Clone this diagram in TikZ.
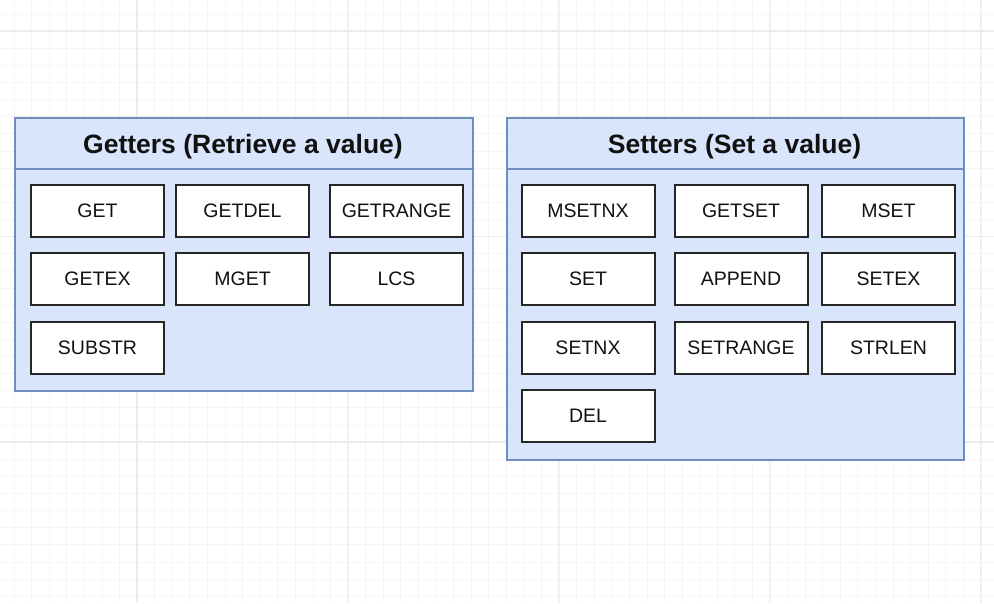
\documentclass[tikz,border=0pt]{standalone}
\usepackage{fontspec}
\setmainfont{Liberation Sans}
\definecolor{gridminor}{HTML}{F5F5F5}
\definecolor{gridmajor}{HTML}{ECECEC}
\definecolor{contfill}{HTML}{D8E5FA}
\definecolor{contline}{HTML}{6F8EC0}
\definecolor{boxline}{HTML}{262626}
\definecolor{txt}{HTML}{111111}
\tikzset{
  container/.style={draw=contline, fill=contfill, line width=1.5pt, anchor=north west, inner sep=0pt},
  header/.style={draw=contline, fill=contfill, line width=1.5pt, anchor=north west, inner sep=0pt},
  headtext/.style={anchor=base, inner sep=0pt, font=\fontsize{26.5}{30}\selectfont\bfseries, text=txt},
  cmd/.style={draw=boxline, fill=white, line width=2pt, minimum width=133pt, minimum height=52pt,
     inner sep=0pt, font=\fontsize{19.5}{22}\selectfont, text=txt},
}
\begin{document}
\begin{tikzpicture}[x=1pt,y=-1pt]
\useasboundingbox (0,0) rectangle (994,603);
\fill[white] (0,0) rectangle (994,603);
% grid
\foreach \i in {-7,...,49} {\draw[gridminor, line width=0.6pt] ({137+17.58*\i},0) -- ({137+17.58*\i},603);}
\foreach \i in {-1,...,34} {\draw[gridminor, line width=0.6pt] (0,{31+17.125*\i}) -- (994,{31+17.125*\i});}
\foreach \i in {0,...,4} {\draw[gridmajor, line width=1.1pt] ({137+210.9*\i},0) -- ({137+210.9*\i},603);}
\foreach \i in {0,...,2} {\draw[gridmajor, line width=1.1pt] (0,{31+205.5*\i}) -- (994,{31+205.5*\i});}

% Getters container
\node[container, minimum width=458pt, minimum height=273pt] (gbody) at (14,117) {};
\node[header, minimum width=458pt, minimum height=51pt] (ghead) at (14,117) {};
\node[headtext] (gtitle) at (243,153) {Getters (Retrieve a value)};
\node[cmd] (get) at (97.5,211) {GET};
\node[cmd] (getdel) at (242.5,211) {GETDEL};
\node[cmd] (getrange) at (396.5,211) {GETRANGE};
\node[cmd] (getex) at (97.5,279) {GETEX};
\node[cmd] (mget) at (242.5,279) {MGET};
\node[cmd] (lcs) at (396.5,279) {LCS};
\node[cmd] (substr) at (97.5,347.5) {SUBSTR};

% Setters container
\node[container, minimum width=457pt, minimum height=342pt] (sbody) at (506,117) {};
\node[header, minimum width=457pt, minimum height=51pt] (shead) at (506,117) {};
\node[headtext] (stitle) at (734.5,153) {Setters (Set a value)};
\node[cmd] (msetnx) at (588,211) {MSETNX};
\node[cmd] (getset) at (741,211) {GETSET};
\node[cmd] (mset) at (888.5,211) {MSET};
\node[cmd] (set) at (588,279) {SET};
\node[cmd] (append) at (741,279) {APPEND};
\node[cmd] (setex) at (888.5,279) {SETEX};
\node[cmd] (setnx) at (588,347.5) {SETNX};
\node[cmd] (setrange) at (741,347.5) {SETRANGE};
\node[cmd] (strlen) at (888.5,347.5) {STRLEN};
\node[cmd] (del) at (588,416) {DEL};
\end{tikzpicture}
\end{document}
